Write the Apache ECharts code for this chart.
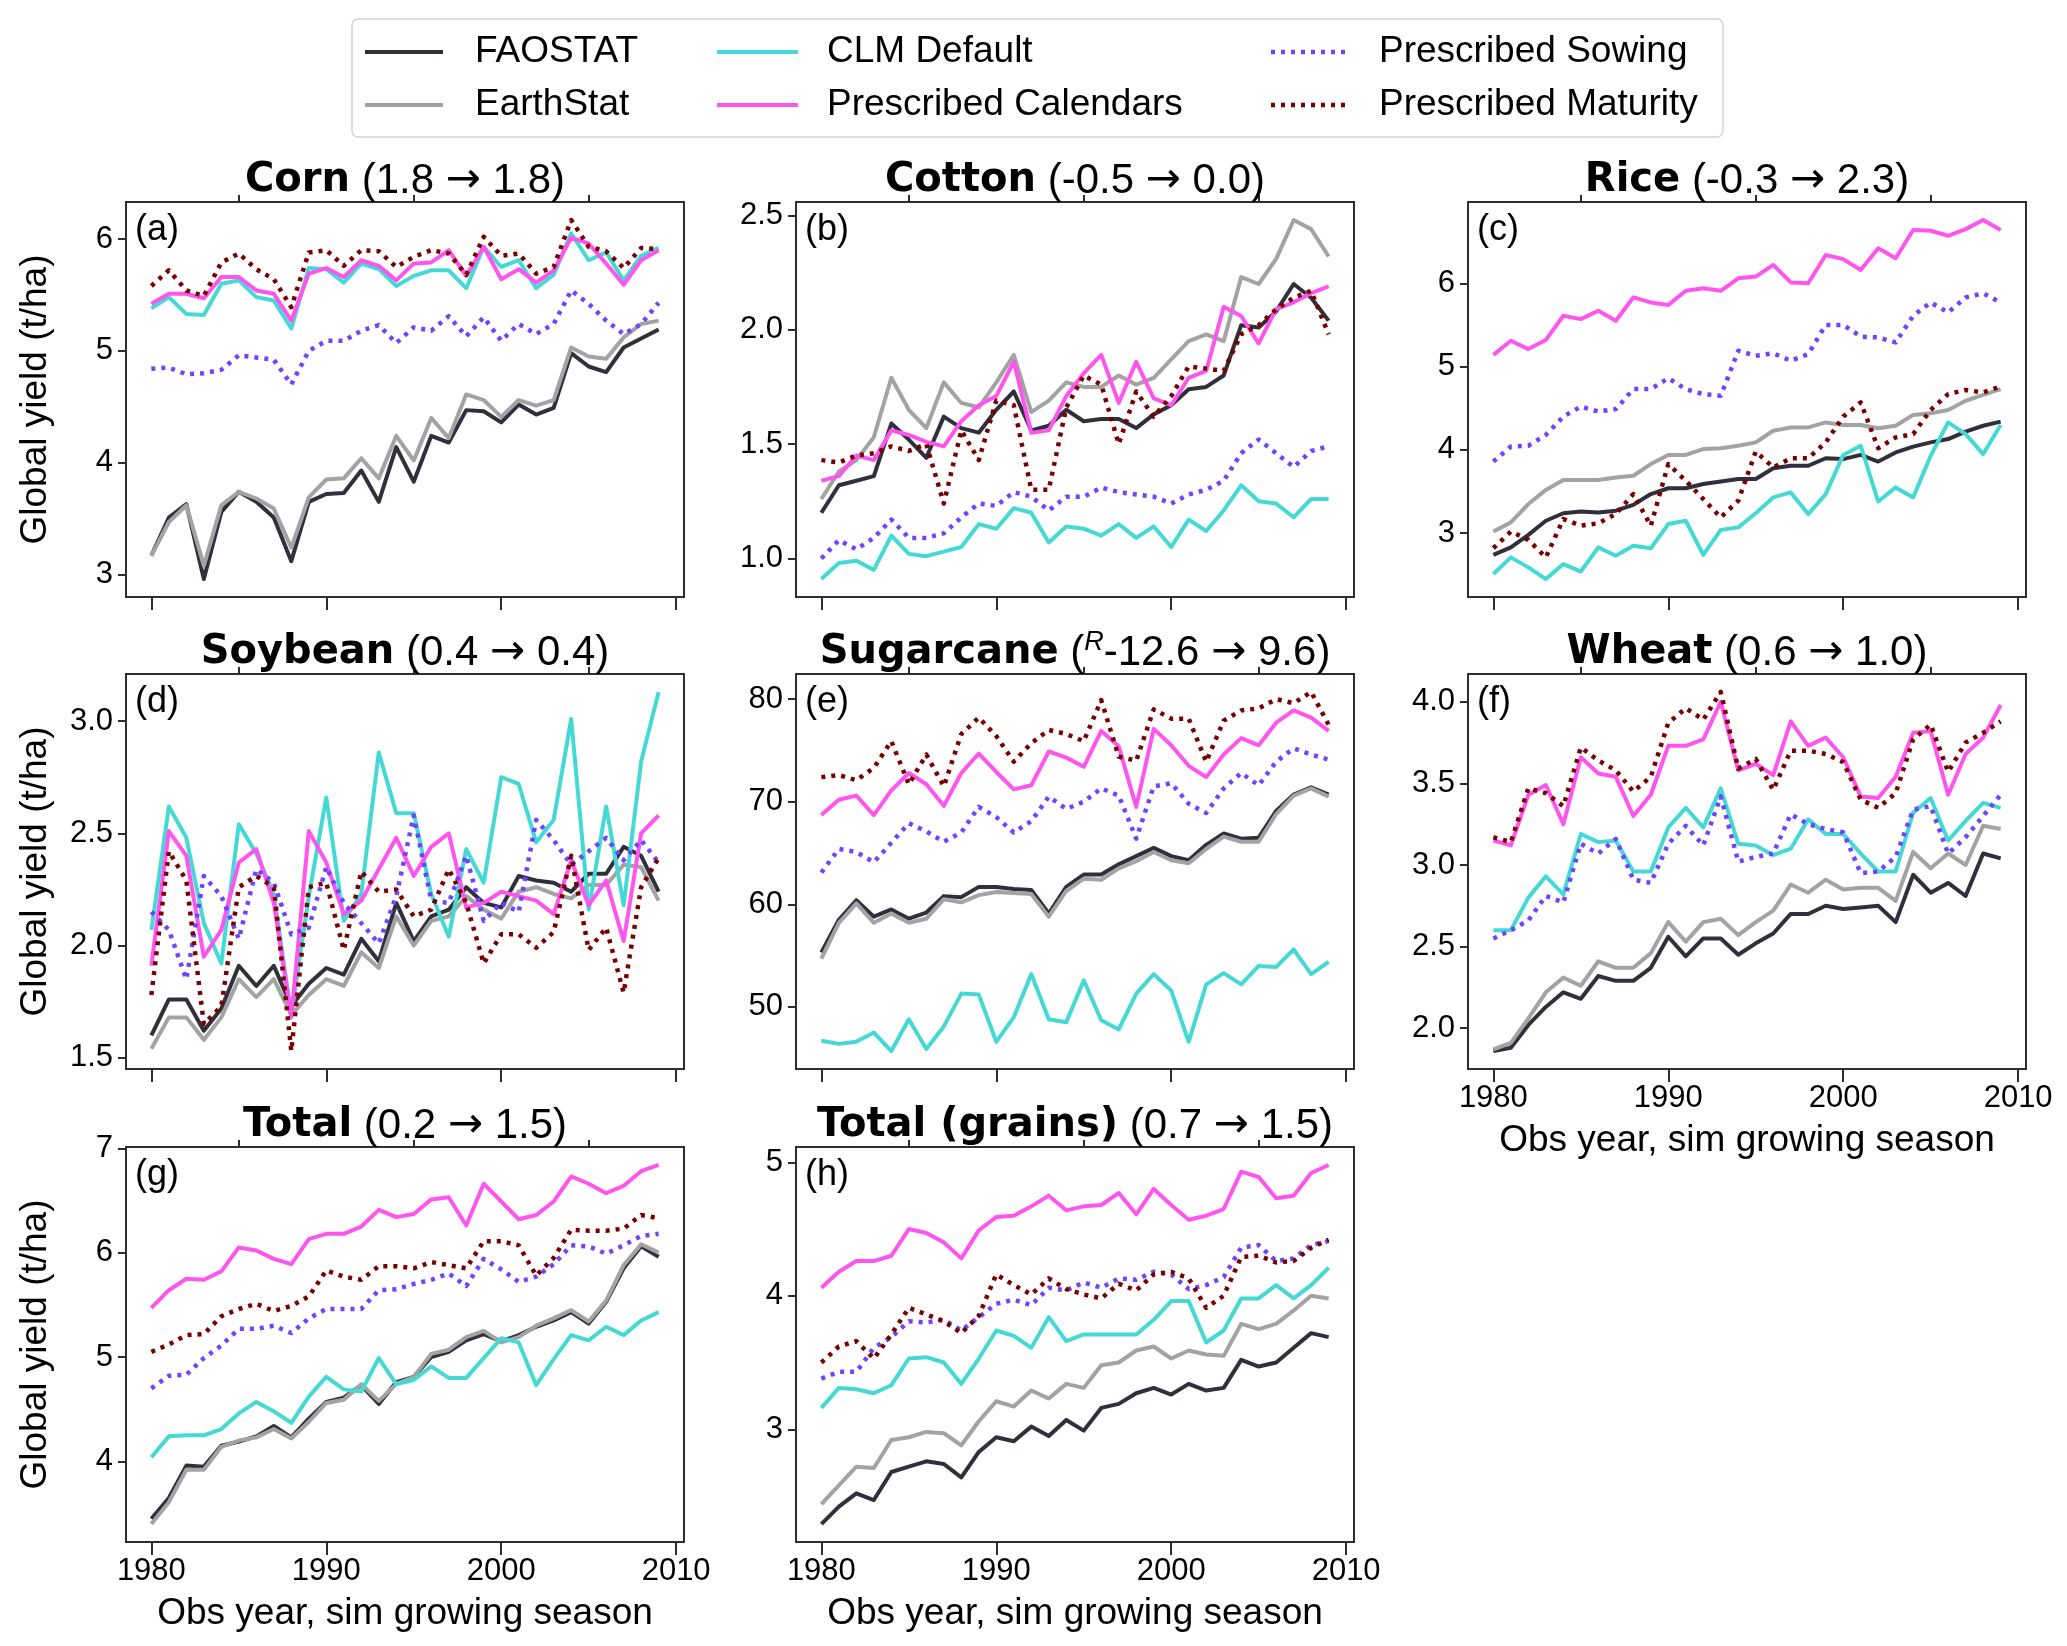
<!DOCTYPE html>
<html><head><meta charset="utf-8">
<script src="https://cdn.jsdelivr.net/npm/echarts@6/dist/echarts.min.js"></script>
<style>html,body{margin:0;padding:0;background:#fff}#c{width:2067px;height:1646px}</style>
</head><body><div id="c"></div>
<script>
const years = [1980,1981,1982,1983,1984,1985,1986,1987,1988,1989,1990,1991,1992,1993,1994,1995,1996,1997,1998,1999,2000,2001,2002,2003,2004,2005,2006,2007,2008,2009];
const seriesNames = ['FAOSTAT','EarthStat','CLM Default','Prescribed Calendars','Prescribed Sowing','Prescribed Maturity'];
const xMajorTicks = [1980,1990,2000,2010];
const xMinorTicks = [1985,1995,2005];

const corn_FAOSTAT = [3.17,3.51,3.63,2.96,3.56,3.74,3.65,3.51,3.12,3.65,3.72,3.73,3.93,3.65,4.14,3.83,4.24,4.18,4.47,4.46,4.36,4.52,4.43,4.49,4.98,4.86,4.81,5.03,5.11,5.19];
const corn_EarthStat = [3.17,3.47,3.62,3.08,3.62,3.74,3.68,3.59,3.24,3.69,3.85,3.86,4.04,3.86,4.24,4.02,4.40,4.22,4.61,4.56,4.41,4.56,4.51,4.56,5.03,4.95,4.93,5.12,5.24,5.27];
const corn_CLM = [5.38,5.48,5.33,5.32,5.60,5.63,5.48,5.45,5.20,5.74,5.73,5.61,5.78,5.73,5.58,5.67,5.72,5.72,5.56,5.93,5.75,5.81,5.56,5.68,6.05,5.81,5.88,5.63,5.85,5.92];
const corn_Cal = [5.42,5.51,5.51,5.47,5.66,5.66,5.54,5.51,5.27,5.69,5.74,5.66,5.81,5.76,5.63,5.78,5.79,5.90,5.67,5.93,5.64,5.73,5.61,5.72,6.01,5.96,5.78,5.59,5.81,5.90];
const corn_Sow = [4.84,4.85,4.79,4.80,4.83,4.96,4.94,4.92,4.70,5.00,5.09,5.09,5.18,5.23,5.07,5.21,5.18,5.31,5.13,5.30,5.09,5.24,5.15,5.24,5.54,5.42,5.27,5.15,5.24,5.43];
const corn_Mat = [5.58,5.72,5.54,5.49,5.79,5.87,5.73,5.64,5.39,5.88,5.90,5.76,5.90,5.89,5.75,5.84,5.90,5.87,5.68,6.02,5.85,5.87,5.69,5.75,6.17,5.93,5.89,5.74,5.92,5.91];
const corn_ticks = [3,4,5,6];

const cotton_FAOSTAT = [1.20,1.32,1.34,1.36,1.59,1.52,1.44,1.62,1.57,1.55,1.65,1.73,1.56,1.58,1.65,1.60,1.61,1.61,1.57,1.63,1.67,1.74,1.75,1.80,2.02,2.01,2.08,2.20,2.14,2.04];
const cotton_EarthStat = [1.26,1.38,1.43,1.53,1.79,1.65,1.57,1.77,1.68,1.66,1.77,1.89,1.64,1.69,1.77,1.75,1.75,1.80,1.76,1.79,1.87,1.95,1.98,1.95,2.23,2.20,2.31,2.48,2.44,2.32];
const cotton_CLM = [0.91,0.98,0.99,0.95,1.10,1.02,1.01,1.03,1.05,1.15,1.13,1.22,1.20,1.07,1.14,1.13,1.10,1.15,1.09,1.14,1.05,1.17,1.12,1.21,1.32,1.25,1.24,1.18,1.26,1.26];
const cotton_Cal = [1.34,1.36,1.45,1.43,1.56,1.54,1.51,1.49,1.60,1.67,1.71,1.86,1.55,1.56,1.71,1.81,1.89,1.68,1.86,1.70,1.67,1.79,1.82,2.10,2.06,1.94,2.09,2.12,2.16,2.19];
const cotton_Sow = [1.00,1.08,1.04,1.09,1.17,1.09,1.09,1.11,1.18,1.24,1.23,1.29,1.27,1.21,1.27,1.27,1.31,1.29,1.28,1.27,1.24,1.28,1.30,1.34,1.46,1.52,1.46,1.40,1.47,1.49];
const cotton_Mat = [1.43,1.42,1.45,1.46,1.49,1.47,1.50,1.24,1.56,1.43,1.69,1.67,1.30,1.30,1.66,1.80,1.76,1.50,1.73,1.62,1.71,1.84,1.83,1.82,1.98,2.02,2.09,2.14,2.17,1.98];
const cotton_ticks = [1.0,1.5,2.0,2.5];

const rice_FAOSTAT = [2.74,2.83,2.98,3.15,3.24,3.26,3.25,3.27,3.34,3.47,3.54,3.54,3.59,3.62,3.65,3.65,3.78,3.81,3.81,3.90,3.89,3.94,3.86,3.97,4.04,4.09,4.13,4.22,4.29,4.34];
const rice_EarthStat = [3.02,3.13,3.35,3.52,3.64,3.64,3.64,3.67,3.69,3.83,3.94,3.94,4.01,4.02,4.05,4.09,4.23,4.27,4.27,4.33,4.30,4.30,4.26,4.29,4.42,4.44,4.48,4.59,4.66,4.73];
const rice_CLM = [2.51,2.71,2.59,2.45,2.63,2.54,2.83,2.73,2.85,2.82,3.11,3.15,2.74,3.04,3.07,3.24,3.43,3.49,3.23,3.47,3.94,4.05,3.38,3.55,3.43,3.93,4.33,4.19,3.95,4.30];
const rice_Cal = [5.14,5.31,5.21,5.32,5.61,5.57,5.67,5.55,5.83,5.77,5.74,5.91,5.94,5.91,6.06,6.08,6.22,6.01,6.00,6.34,6.29,6.16,6.42,6.30,6.64,6.63,6.57,6.65,6.76,6.64];
const rice_Sow = [3.86,4.04,4.05,4.18,4.40,4.52,4.46,4.49,4.73,4.73,4.86,4.73,4.67,4.65,5.19,5.13,5.16,5.07,5.15,5.50,5.50,5.36,5.35,5.29,5.61,5.77,5.65,5.83,5.88,5.77];
const rice_Mat = [2.82,3.02,2.92,2.71,3.17,3.09,3.12,3.23,3.47,3.09,3.83,3.63,3.41,3.19,3.39,3.98,3.79,3.90,3.90,4.09,4.40,4.57,4.02,4.15,4.19,4.48,4.67,4.72,4.69,4.76];
const rice_ticks = [3,4,5,6];

const soy_FAOSTAT = [1.60,1.76,1.76,1.62,1.72,1.91,1.82,1.91,1.73,1.83,1.90,1.87,2.03,1.93,2.19,2.02,2.13,2.16,2.26,2.19,2.17,2.31,2.29,2.28,2.24,2.32,2.32,2.44,2.40,2.24];
const soy_EarthStat = [1.54,1.68,1.68,1.58,1.68,1.85,1.77,1.85,1.69,1.78,1.85,1.82,1.97,1.90,2.13,2.00,2.11,2.13,2.22,2.16,2.12,2.24,2.26,2.23,2.21,2.27,2.27,2.36,2.35,2.20];
const soy_CLM = [2.07,2.62,2.48,2.10,1.92,2.54,2.41,2.23,1.69,2.22,2.66,2.11,2.23,2.86,2.59,2.59,2.23,2.04,2.43,2.28,2.75,2.72,2.46,2.56,3.01,2.16,2.62,2.18,2.82,3.13];
const soy_Cal = [1.91,2.51,2.40,1.95,2.07,2.37,2.43,2.19,1.68,2.51,2.37,2.14,2.20,2.34,2.48,2.31,2.44,2.50,2.17,2.19,2.24,2.22,2.20,2.14,2.38,2.18,2.29,2.02,2.50,2.58];
const soy_Sow = [2.15,2.07,1.85,2.31,2.22,2.03,2.34,2.28,2.05,2.08,2.35,2.19,2.10,2.01,2.22,2.58,2.20,2.19,2.40,2.11,2.19,2.15,2.56,2.47,2.36,2.42,2.48,2.38,2.47,2.37];
const soy_Mat = [1.78,2.42,2.29,1.65,1.73,2.26,2.31,2.26,1.53,2.26,2.28,1.98,2.33,2.24,2.25,2.13,2.16,2.34,2.19,1.92,2.05,2.05,1.99,2.06,2.40,1.98,2.08,1.79,2.26,2.39];
const soy_ticks = [1.5,2.0,2.5,3.0];

const sugar_FAOSTAT = [55.3,58.5,60.4,58.8,59.5,58.6,59.2,60.8,60.7,61.7,61.7,61.5,61.4,59.1,61.7,62.9,62.9,63.9,64.7,65.5,64.7,64.3,65.8,66.9,66.4,66.5,69.1,70.7,71.4,70.7];
const sugar_EarthStat = [54.7,58.2,60.1,58.2,59.1,58.2,58.6,60.5,60.2,60.9,61.2,61.1,61.0,58.8,61.3,62.5,62.4,63.5,64.2,65.1,64.3,64.0,65.4,66.6,66.1,66.1,68.8,70.6,71.3,70.5];
const sugar_CLM = [46.7,46.4,46.6,47.5,45.7,48.8,45.9,48.1,51.3,51.2,46.6,49.0,53.2,48.8,48.5,52.6,48.7,47.8,51.3,53.2,51.6,46.6,52.2,53.3,52.2,54.0,53.9,55.6,53.2,54.4];
const sugar_Cal = [68.7,70.2,70.6,68.7,71.1,72.8,71.7,69.6,72.8,74.7,72.9,71.2,71.6,74.9,74.3,73.4,76.9,75.4,69.5,77.1,75.5,73.5,72.4,74.6,76.2,75.5,77.7,78.9,78.2,76.9];
const sugar_Sow = [63.1,65.4,65.1,64.1,66.0,67.9,67.1,66.1,67.0,69.5,68.5,67.0,68.1,70.5,69.3,70.0,71.3,70.6,66.4,71.5,71.8,69.8,68.9,71.3,72.8,71.6,73.9,75.2,74.6,74.1];
const sugar_Mat = [72.4,72.6,72.1,73.3,75.9,71.7,74.6,71.5,76.6,78.2,76.4,73.9,75.7,77.0,76.6,75.9,79.9,74.4,74.0,79.0,78.1,78.1,73.9,77.9,78.9,79.1,80.0,79.6,80.7,77.5];
const sugar_ticks = [50,60,70,80];

const wheat_FAOSTAT = [1.86,1.88,2.02,2.13,2.22,2.18,2.32,2.29,2.29,2.37,2.56,2.44,2.55,2.55,2.45,2.52,2.58,2.70,2.70,2.75,2.73,2.74,2.75,2.65,2.94,2.83,2.89,2.81,3.07,3.04];
const wheat_EarthStat = [1.87,1.91,2.06,2.22,2.31,2.26,2.41,2.37,2.37,2.46,2.65,2.53,2.65,2.67,2.57,2.65,2.72,2.88,2.83,2.91,2.85,2.86,2.86,2.78,3.08,2.98,3.07,3.00,3.24,3.22];
const wheat_CLM = [2.60,2.60,2.80,2.93,2.82,3.19,3.14,3.15,2.96,2.96,3.23,3.35,3.23,3.47,3.13,3.12,3.06,3.10,3.28,3.19,3.19,3.07,2.96,2.96,3.32,3.41,3.15,3.27,3.38,3.35];
const wheat_Cal = [3.15,3.12,3.43,3.49,3.25,3.66,3.56,3.54,3.30,3.43,3.73,3.73,3.77,4.00,3.58,3.62,3.55,3.88,3.73,3.78,3.66,3.42,3.41,3.54,3.81,3.82,3.43,3.68,3.78,3.98];
const wheat_Sow = [2.55,2.60,2.66,2.81,2.77,3.13,3.07,3.16,2.91,2.89,3.13,3.24,3.12,3.42,3.02,3.05,3.07,3.31,3.25,3.22,3.20,2.95,2.96,3.05,3.34,3.36,3.07,3.17,3.30,3.43];
const wheat_Mat = [3.17,3.14,3.47,3.44,3.36,3.72,3.64,3.58,3.45,3.54,3.87,3.96,3.89,4.06,3.59,3.65,3.46,3.70,3.70,3.68,3.63,3.40,3.35,3.44,3.77,3.86,3.57,3.75,3.81,3.88];
const wheat_ticks = [2.0,2.5,3.0,3.5,4.0];

const total_FAOSTAT = [3.45,3.65,3.96,3.95,4.15,4.19,4.24,4.34,4.23,4.41,4.57,4.61,4.73,4.55,4.76,4.81,5.00,5.05,5.16,5.22,5.15,5.21,5.29,5.35,5.43,5.32,5.53,5.85,6.06,5.96];
const total_EarthStat = [3.40,3.61,3.92,3.92,4.14,4.20,4.23,4.31,4.22,4.38,4.56,4.59,4.74,4.58,4.74,4.81,5.03,5.07,5.19,5.25,5.14,5.19,5.30,5.37,5.45,5.34,5.54,5.88,6.08,6.00];
const total_CLM = [4.04,4.24,4.25,4.25,4.31,4.46,4.57,4.48,4.37,4.62,4.81,4.69,4.67,4.99,4.74,4.78,4.91,4.80,4.80,4.99,5.18,5.14,4.73,4.98,5.21,5.16,5.29,5.21,5.35,5.43];
const total_Cal = [5.47,5.64,5.75,5.74,5.82,6.05,6.02,5.94,5.89,6.13,6.18,6.18,6.25,6.41,6.34,6.37,6.51,6.53,6.26,6.66,6.49,6.32,6.36,6.49,6.73,6.66,6.57,6.64,6.78,6.84];
const total_Sow = [4.70,4.82,4.83,4.99,5.11,5.27,5.27,5.30,5.23,5.37,5.46,5.46,5.46,5.64,5.65,5.70,5.74,5.80,5.68,5.94,5.84,5.72,5.77,5.89,6.07,6.06,5.99,6.07,6.16,6.18];
const total_Mat = [5.05,5.12,5.21,5.22,5.39,5.46,5.51,5.44,5.49,5.58,5.83,5.77,5.74,5.87,5.87,5.85,5.91,5.88,5.85,6.11,6.11,6.07,5.78,5.95,6.22,6.21,6.21,6.23,6.36,6.33];
const total_ticks = [4,5,6,7];

const grains_FAOSTAT = [2.29,2.42,2.52,2.47,2.68,2.72,2.76,2.74,2.64,2.83,2.94,2.91,3.02,2.95,3.07,2.99,3.16,3.19,3.27,3.31,3.26,3.34,3.29,3.31,3.52,3.47,3.50,3.61,3.72,3.69];
const grains_EarthStat = [2.44,2.58,2.72,2.71,2.92,2.94,2.98,2.97,2.88,3.06,3.21,3.17,3.29,3.23,3.34,3.31,3.48,3.50,3.59,3.62,3.53,3.59,3.56,3.55,3.79,3.75,3.79,3.89,4.00,3.98];
const grains_CLM = [3.16,3.31,3.30,3.27,3.33,3.53,3.54,3.50,3.34,3.53,3.74,3.70,3.61,3.84,3.66,3.71,3.71,3.71,3.71,3.82,3.96,3.96,3.65,3.74,3.98,3.98,4.08,3.98,4.08,4.21];
const grains_Cal = [4.06,4.18,4.26,4.26,4.30,4.50,4.47,4.40,4.28,4.49,4.59,4.60,4.67,4.75,4.64,4.67,4.68,4.77,4.61,4.80,4.68,4.57,4.60,4.65,4.93,4.89,4.73,4.75,4.92,4.98];
const grains_Sow = [3.38,3.43,3.43,3.61,3.69,3.81,3.80,3.82,3.74,3.84,3.94,3.97,3.93,4.06,4.04,4.10,4.06,4.13,4.12,4.18,4.16,4.05,4.08,4.14,4.36,4.38,4.26,4.28,4.38,4.41];
const grains_Mat = [3.50,3.62,3.66,3.53,3.71,3.91,3.86,3.81,3.72,3.85,4.16,4.08,4.01,4.13,4.05,4.01,3.98,4.09,4.04,4.16,4.18,4.13,3.91,4.00,4.29,4.30,4.25,4.26,4.36,4.42];
const grains_ticks = [3,4,5];

// ---------- styling / layout ----------
const COLORS = ['#30303c','#a3a3a3','#45d9d6','#ff55ee','#6e44ff','#780000'];
const DOTTED = [false,false,false,false,true,true];
const FONT = 'Liberation Sans, Arial, sans-serif';
const FRAME = '#2e2e2e';
const colLeft = [126, 796, 1468];
const rowTop = [202, 674, 1147];
const W = 558, H = 395;

const panels = [
  {bold:'Corn', a:'(1.8', b:'1.8)', letter:'(a)', data:[corn_FAOSTAT,corn_EarthStat,corn_CLM,corn_Cal,corn_Sow,corn_Mat], ticks:corn_ticks, dec:0, c:0, r:0, xl:false},
  {bold:'Cotton', a:'(-0.5', b:'0.0)', letter:'(b)', data:[cotton_FAOSTAT,cotton_EarthStat,cotton_CLM,cotton_Cal,cotton_Sow,cotton_Mat], ticks:cotton_ticks, dec:1, c:1, r:0, xl:false},
  {bold:'Rice', a:'(-0.3', b:'2.3)', letter:'(c)', data:[rice_FAOSTAT,rice_EarthStat,rice_CLM,rice_Cal,rice_Sow,rice_Mat], ticks:rice_ticks, dec:0, c:2, r:0, xl:false},
  {bold:'Soybean', a:'(0.4', b:'0.4)', letter:'(d)', data:[soy_FAOSTAT,soy_EarthStat,soy_CLM,soy_Cal,soy_Sow,soy_Mat], ticks:soy_ticks, dec:1, c:0, r:1, xl:false},
  {bold:'Sugarcane', a:'-12.6', pre:'(', sup:'R', b:'9.6)', letter:'(e)', data:[sugar_FAOSTAT,sugar_EarthStat,sugar_CLM,sugar_Cal,sugar_Sow,sugar_Mat], ticks:sugar_ticks, dec:0, c:1, r:1, xl:false},
  {bold:'Wheat', a:'(0.6', b:'1.0)', letter:'(f)', data:[wheat_FAOSTAT,wheat_EarthStat,wheat_CLM,wheat_Cal,wheat_Sow,wheat_Mat], ticks:wheat_ticks, dec:1, c:2, r:1, xl:true},
  {bold:'Total', a:'(0.2', b:'1.5)', letter:'(g)', data:[total_FAOSTAT,total_EarthStat,total_CLM,total_Cal,total_Sow,total_Mat], ticks:total_ticks, dec:0, c:0, r:2, xl:true},
  {bold:'Total (grains)', a:'(0.7', b:'1.5)', letter:'(h)', data:[grains_FAOSTAT,grains_EarthStat,grains_CLM,grains_Cal,grains_Sow,grains_Mat], ticks:grains_ticks, dec:0, c:1, r:2, xl:true}
];

const grid = [], xAxis = [], yAxis = [], series = [], title = [], graphic = [];
const xMin = 1980 - 0.05*29, xMax = 2009 + 0.05*29;
const LH = 48;
const richStyles = {
  b:{fontFamily:'DejaVu Sans, sans-serif', fontWeight:'bold', fontSize:40, color:'#000', lineHeight:LH},
  r:{fontFamily:FONT, fontWeight:'normal', fontSize:42, color:'#000', lineHeight:LH},
  w:{fontFamily:'DejaVu Sans, sans-serif', fontWeight:'normal', fontSize:42, color:'#000', lineHeight:LH},
  s:{fontFamily:FONT, fontWeight:'normal', fontStyle:'italic', fontSize:27, color:'#000', lineHeight:36, verticalAlign:'top'}
};

panels.forEach((p, i) => {
  const left = colLeft[p.c], top = rowTop[p.r];
  grid.push({left:left, top:top, width:W, height:H, show:true, borderColor:FRAME, borderWidth:2, backgroundColor:'transparent', containLabel:false, outerBoundsMode:'none'});
  let lo = Infinity, hi = -Infinity;
  p.data.forEach(a => a.forEach(v => { lo = Math.min(lo, v); hi = Math.max(hi, v); }));
  const pad = 0.05*(hi-lo);
  const tickStyle = {color:FRAME, width:2};
  xAxis.push({type:'value', gridIndex:i, min:xMin, max:xMax, axisLine:{show:false}, splitLine:{show:false},
    axisTick:{show:true, length:13, lineStyle:tickStyle, customValues:xMajorTicks},
    axisLabel:{show:p.xl, customValues:xMajorTicks, fontSize:31, fontFamily:FONT, color:'#000', margin:14, formatter:v=>String(v)},
    name:p.xl?'Obs year, sim growing season':'', nameLocation:'middle', nameGap:53, nameMoveOverlap:false,
    nameTextStyle:{fontSize:37, fontFamily:FONT, color:'#000'}});
  xAxis.push({type:'value', gridIndex:i, min:xMin, max:xMax, axisLine:{show:false}, splitLine:{show:false},
    axisTick:{show:true, length:7, lineStyle:tickStyle, customValues:xMinorTicks},
    axisLabel:{show:false, customValues:xMinorTicks}});
  yAxis.push({type:'value', gridIndex:i, min:lo-pad, max:hi+pad, axisLine:{show:false}, splitLine:{show:false},
    axisTick:{show:true, length:8, lineStyle:tickStyle, customValues:p.ticks},
    axisLabel:{customValues:p.ticks, fontSize:31, fontFamily:FONT, color:'#000', margin:13, formatter:v=>v.toFixed(p.dec)},
    name:p.c===0?'Global yield (t/ha)':'', nameLocation:'middle', nameGap:72, nameRotate:90, nameMoveOverlap:false,
    nameTextStyle:{fontSize:37, fontFamily:FONT, color:'#000'}});
  p.data.forEach((arr, k) => {
    series.push({type:'line', name:seriesNames[k], xAxisIndex:2*i, yAxisIndex:i, symbol:'none', silent:true, clip:true,
      data: years.map((y, j) => [y, arr[j]]),
      lineStyle:{color:COLORS[k], width:DOTTED[k]?4.5:4, type:DOTTED[k]?[4,6]:'solid', cap:'butt', join:'round'},
      z: 2 + k});
  });
  const txt = p.sup
    ? `{b|${p.bold}}{r| }{r|${p.pre}}{s|${p.sup}}{r|${p.a} }{w|→}{r| ${p.b}}`
    : `{b|${p.bold}}{r| ${p.a} }{w|→}{r| ${p.b}}`;
  title.push({text:txt, left:left + W/2, top:top - 45, textAlign:'center', padding:0,
    textStyle:{fontWeight:'normal', rich:richStyles}});
  graphic.push({type:'text', silent:true, style:{text:p.letter, x:left + 9, y:top + 10, fontSize:36, fontFamily:FONT, fill:'#000', verticalAlign:'top', align:'left'}});
});

// legend drawn as graphic: 3 columns x 2 rows
graphic.push({type:'rect', silent:true, shape:{x:352, y:19, width:1371, height:118, r:6}, style:{fill:'#fff', stroke:'#d4d4d4', lineWidth:1.5}, z:0});
const legIcon = [[365,443],[717,798],[1271,1347]];
const legText = [475, 827, 1379];
const legRow = [52, 105];
seriesNames.forEach((nm, k) => {
  const col = Math.floor(k/2), row = k % 2;
  const y = legRow[row];
  graphic.push({type:'line', silent:true, shape:{x1:legIcon[col][0], y1:y, x2:legIcon[col][1], y2:y},
    style:{stroke:COLORS[k], lineWidth:DOTTED[k]?4.5:4, lineDash:DOTTED[k]?[4,6]:null, lineCap:'butt'}, z:10});
  graphic.push({type:'text', silent:true, style:{text:nm, x:legText[col], y:y, fontSize:37, fontFamily:FONT, fill:'#000', verticalAlign:'middle', align:'left'}, z:10});
});

const chart = echarts.init(document.getElementById('c'), null, {renderer:'canvas', width:2067, height:1646});
chart.setOption({
  backgroundColor:'#fff',
  animation:false,
  title:title,
  grid:grid,
  xAxis:xAxis,
  yAxis:yAxis,
  series:series,
  graphic:graphic
});
</script>
</body></html>
